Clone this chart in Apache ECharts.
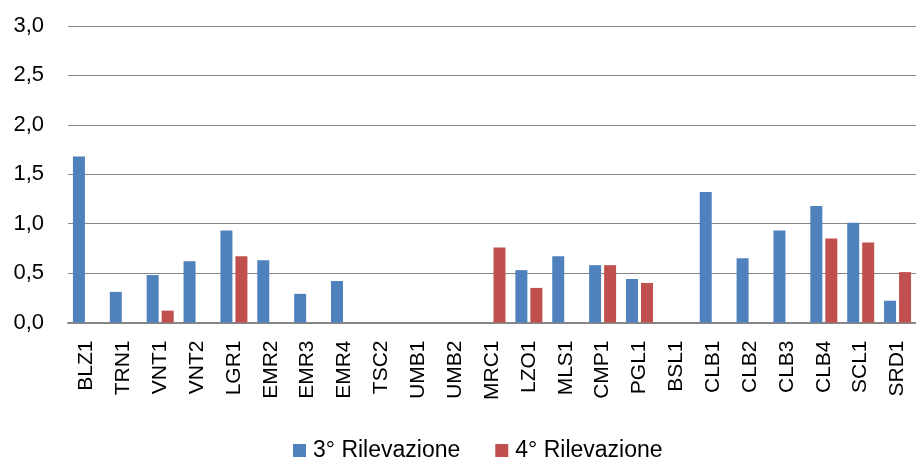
<!DOCTYPE html>
<html>
<head>
<meta charset="utf-8">
<script src="https://cdn.jsdelivr.net/npm/echarts@6/dist/echarts.min.js"></script>
<style>
  html, body { margin: 0; padding: 0; background: #fff; }
  #chart { width: 916px; height: 458px; }
</style>
</head>
<body>
<div id="chart"></div>
<script>
// categorie (stazioni)
const categories = ['BLZ1', 'TRN1', 'VNT1', 'VNT2', 'LGR1', 'EMR2', 'EMR3', 'EMR4', 'TSC2', 'UMB1', 'UMB2',
  'MRC1', 'LZO1', 'MLS1', 'CMP1', 'PGL1', 'BSL1', 'CLB1', 'CLB2', 'CLB3', 'CLB4', 'SCL1', 'SRD1'];

const seriesNames = ['3° Rilevazione', '4° Rilevazione'];

// valori (null = nessuna barra)
const rilevazione3 = [1.68, 0.31, 0.48, 0.62, 0.93, 0.63, 0.29, 0.42, null, null, null,
  null, 0.53, 0.67, 0.58, 0.44, null, 1.32, 0.65, 0.93, 1.18, 1.01, 0.22];
const rilevazione4 = [null, null, 0.12, null, 0.67, null, null, null, null, null, null,
  0.76, 0.35, null, 0.58, 0.40, null, null, null, null, 0.85, 0.81, 0.51];

const yTicks = { min: 0, max: 3, interval: 0.5 };

const FONT = '"Liberation Sans", Arial, sans-serif';

const chart = echarts.init(document.getElementById('chart'), null, { renderer: 'canvas' });

chart.setOption({
  animation: false,
  backgroundColor: '#fff',
  grid: { left: 68, right: -8, top: 26, bottom: 135.5 },
  legend: {
    data: seriesNames,
    left: 288,
    top: 434,
    icon: 'rect',
    itemWidth: 13,
    itemHeight: 13,
    itemGap: 35,
    textStyle: { fontFamily: FONT, fontSize: 23, color: '#000', padding: [0, 0, 0, 2] }
  },
  xAxis: {
    type: 'category',
    data: categories,
    axisLine: { lineStyle: { color: '#868686', width: 2 } },
    axisTick: { show: false },
    axisLabel: {
      rotate: 90,
      interval: 0,
      margin: 18,
      fontFamily: FONT,
      fontSize: 21,
      color: '#000'
    }
  },
  yAxis: {
    type: 'value',
    min: yTicks.min,
    max: yTicks.max,
    interval: yTicks.interval,
    axisLine: { show: false },
    axisTick: { show: false },
    splitLine: { lineStyle: { color: '#868686', width: 1 } },
    axisLabel: {
      margin: 24,
      fontFamily: FONT,
      fontSize: 22,
      color: '#000',
      formatter: v => v.toFixed(1).replace('.', ',')
    }
  },
  series: [
    {
      name: seriesNames[0],
      type: 'bar',
      data: rilevazione3,
      barWidth: 12,
      barGap: '25%',
      itemStyle: { color: '#4F81BD' }
    },
    {
      name: seriesNames[1],
      type: 'bar',
      data: rilevazione4,
      barWidth: 12,
      barGap: '25%',
      itemStyle: { color: '#C0504D' }
    }
  ]
});
</script>
</body>
</html>
